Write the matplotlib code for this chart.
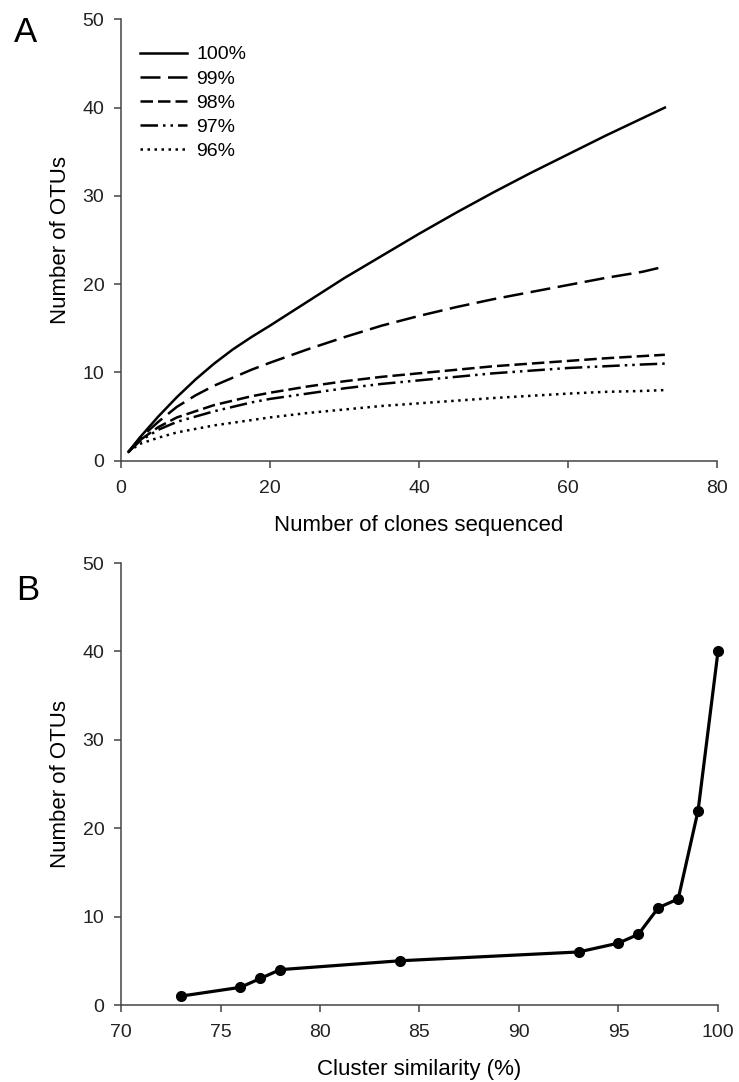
import matplotlib
matplotlib.use("Agg")
import matplotlib.pyplot as plt

plt.rcParams['font.family'] = ['Liberation Sans', 'DejaVu Sans']

# Panel A: rarefaction curves
clones = [1, 2.5, 5, 7.5, 10, 12.5, 15, 17.5, 20, 25, 30, 35, 40, 45, 50, 55, 60, 65, 70, 73]
otu_100 = [1, 2.6, 5.0, 7.2, 9.2, 11.0, 12.6, 14.0, 15.3, 18.0, 20.7, 23.2, 25.7, 28.1, 30.4, 32.6, 34.7, 36.8, 38.8, 40]
otu_99 = [1, 2.5, 4.4, 6.1, 7.4, 8.5, 9.4, 10.3, 11.1, 12.6, 14.0, 15.3, 16.4, 17.4, 18.3, 19.1, 19.9, 20.7, 21.4, 22]
otu_98 = [1, 2.3, 3.8, 4.9, 5.6, 6.3, 6.8, 7.3, 7.7, 8.4, 9.0, 9.5, 9.9, 10.3, 10.7, 11.0, 11.3, 11.6, 11.85, 12]
otu_97 = [1, 2.2, 3.5, 4.4, 5.0, 5.6, 6.1, 6.6, 7.0, 7.6, 8.2, 8.7, 9.1, 9.5, 9.9, 10.2, 10.5, 10.7, 10.9, 11]
otu_96 = [1, 1.9, 2.6, 3.2, 3.6, 4.0, 4.3, 4.6, 4.9, 5.4, 5.8, 6.2, 6.5, 6.8, 7.1, 7.35, 7.6, 7.8, 7.9, 8]
series_labels = ['100%', '99%', '98%', '97%', '96%']

# Panel B: OTUs vs cluster similarity
similarity = [73, 76, 77, 78, 84, 93, 95, 96, 97, 98, 99, 100]
otus_b = [1, 2, 3, 4, 5, 6, 7, 8, 11, 12, 22, 40]

W, H = 739, 1082
fig = plt.figure(figsize=(W / 100, H / 100), dpi=100)
axA = fig.add_axes([121 / W, 1 - 460.7 / H, 596 / W, 441.4 / H])
axB = fig.add_axes([121 / W, 1 - 1005 / H, 597 / W, 442 / H])

styles = [
    '-',
    (0, (8, 3)),
    (0, (5, 2)),
    (0, (7, 2, 1, 2, 1, 2)),
    (0, (1, 1.8)),
]
for ys, lab, ls in zip([otu_100, otu_99, otu_98, otu_97, otu_96], series_labels, styles):
    axA.plot(clones, ys, color='black', lw=1.8, linestyle=ls, label=lab)

axA.legend(loc='upper left', frameon=False, fontsize=14, handlelength=2.4,
           handletextpad=0.5, labelspacing=0.34, borderaxespad=0, borderpad=0,
           bbox_to_anchor=(0.032, 0.94))

axA.set_xlim(0, 80)
axA.set_ylim(0, 50)
axA.set_xticks([0, 20, 40, 60, 80])
axA.set_yticks([0, 10, 20, 30, 40, 50])
axA.set_xlabel('Number of clones sequenced', fontsize=16, labelpad=13)
axA.set_ylabel('Number of OTUs', fontsize=16, labelpad=8)

axB.plot(similarity, otus_b, color='black', lw=2.3, marker='o', markersize=7,
         clip_on=False, zorder=3)
axB.set_xlim(70, 100)
axB.set_ylim(0, 50)
axB.set_xticks([70, 75, 80, 85, 90, 95, 100])
axB.set_yticks([0, 10, 20, 30, 40, 50])
axB.set_xlabel('Cluster similarity (%)', fontsize=16, labelpad=13)
axB.set_ylabel('Number of OTUs', fontsize=16, labelpad=8)

for ax in (axA, axB):
    for s in ('top', 'right'):
        ax.spines[s].set_visible(False)
    for s in ('left', 'bottom'):
        ax.spines[s].set_linewidth(1.1)
        ax.spines[s].set_color('#444444')
    ax.tick_params(direction='out', length=5, width=1.1, labelsize=14, pad=7,
                   color='#444444', labelcolor='#222222')
    ax.tick_params(axis='x', pad=9)
    ax.patch.set_alpha(0)
    for lab in ax.get_xticklabels() + ax.get_yticklabels():
        lab.set_clip_on(False)

fig.text(26 / W, 1 - 32 / H, 'A', fontsize=25, va='center', ha='center')
fig.text(28 / W, 1 - 590 / H, 'B', fontsize=25, va='center', ha='center')

fig.savefig('out.png', dpi=100)
